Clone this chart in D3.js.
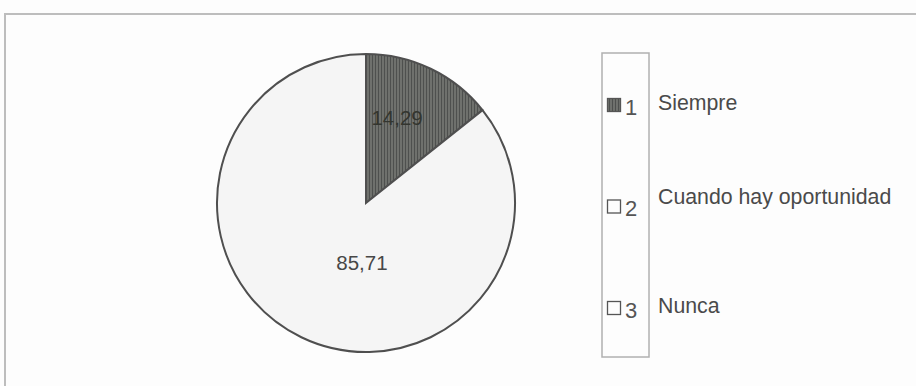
<!DOCTYPE html>
<html>
<head>
<meta charset="utf-8">
<script src="https://cdn.jsdelivr.net/npm/d3@7"></script>
<style>
  body { margin: 0; background: #fdfdfd; }
  svg { display: block; font-family: 'Liberation Sans', Arial, sans-serif; }
</style>
</head>
<body>
<svg></svg>
<script>
'use strict';

const svgWidth = 916;
const svgHeight = 386;

// data
const categories = ['1', '2', '3'];
const labels = ['Siempre', 'Cuando hay oportunidad', 'Nunca'];
const values = [14.29, 85.71, 0];

const svg = d3.select('svg')
  .attr('width', svgWidth)
  .attr('height', svgHeight);

// pattern for the dark slice
const defs = svg.append('defs');
const pat = defs.append('pattern')
  .attr('id', 'stripes')
  .attr('patternUnits', 'userSpaceOnUse')
  .attr('width', 3)
  .attr('height', 3);
pat.append('rect').attr('width', 3).attr('height', 3).attr('fill', '#6f716d');
pat.append('rect').attr('width', 1).attr('height', 3).attr('fill', '#4e504e');

const fills = ['url(#stripes)', '#f5f5f5', '#f5f5f5'];

// outer frame
svg.append('path')
  .attr('d', `M5,${svgHeight + 5} L5,14 L${svgWidth + 5},14`)
  .attr('fill', 'none')
  .attr('stroke', '#bdbdbd')
  .attr('stroke-width', 2);

// pie
const cx = 366, cy = 203, r = 149;
const pieG = svg.append('g').attr('transform', `translate(${cx}, ${cy})`);

const data = categories.map((c, i) => ({ cat: c, label: labels[i], value: values[i] }));
const pie = d3.pie().sort(null).value(d => d.value);
const arcs = pie(data);
const arc = d3.arc().innerRadius(0).outerRadius(r);

pieG.selectAll('path.slice')
  .data(arcs.filter(d => d.value > 0))
  .join('path')
  .attr('class', 'slice')
  .attr('d', arc)
  .attr('fill', d => fills[d.index])
  .attr('stroke', '#4f4f4f')
  .attr('stroke-width', 2);

// value labels
const fmt = v => d3.format('.2f')(v).replace('.', ',');
const labelRadius = [0.61 * r, 0.4 * r];
const labelTurn = [-0.1, -0.38];
pieG.selectAll('text.val')
  .data(arcs.filter(d => d.value > 0))
  .join('text')
  .attr('class', 'val')
  .attr('text-anchor', 'middle')
  .attr('dominant-baseline', 'central')
  .attr('font-size', 20.5)
  .attr('fill', d => d.index === 0 ? '#33352f' : '#474747')
  .attr('x', d => {
    const a = (d.startAngle + d.endAngle) / 2 + labelTurn[d.index];
    return Math.sin(a) * labelRadius[d.index];
  })
  .attr('y', d => {
    const a = (d.startAngle + d.endAngle) / 2 + labelTurn[d.index];
    return -Math.cos(a) * labelRadius[d.index];
  })
  .text(d => fmt(d.value));

// legend
svg.append('rect')
  .attr('x', 602)
  .attr('y', 53)
  .attr('width', 47)
  .attr('height', 304)
  .attr('fill', 'none')
  .attr('stroke', '#b0b0b0')
  .attr('stroke-width', 1.5);

const ly = d3.scalePoint()
  .domain(categories)
  .range([105, 308]);

const legG = svg.selectAll('g.leg')
  .data(data)
  .join('g')
  .attr('class', 'leg')
  .attr('transform', d => `translate(0, ${ly(d.cat)})`);

legG.append('rect')
  .attr('x', 607.5)
  .attr('y', -6.5)
  .attr('width', 13)
  .attr('height', 13)
  .attr('fill', (d, i) => i === 0 ? fills[i] : '#fdfdfd')
  .attr('stroke', '#555')
  .attr('stroke-width', 1.3);

legG.append('text')
  .attr('x', 625)
  .attr('y', 2)
  .attr('dominant-baseline', 'central')
  .attr('font-size', 22)
  .attr('fill', '#555')
  .text(d => d.cat);

legG.append('text')
  .attr('x', 658)
  .attr('y', (d, i) => i === 1 ? -10 : -2)
  .attr('dominant-baseline', 'central')
  .attr('font-size', 21.3)
  .attr('fill', '#4a4a4a')
  .text(d => d.label);
</script>
</body>
</html>
